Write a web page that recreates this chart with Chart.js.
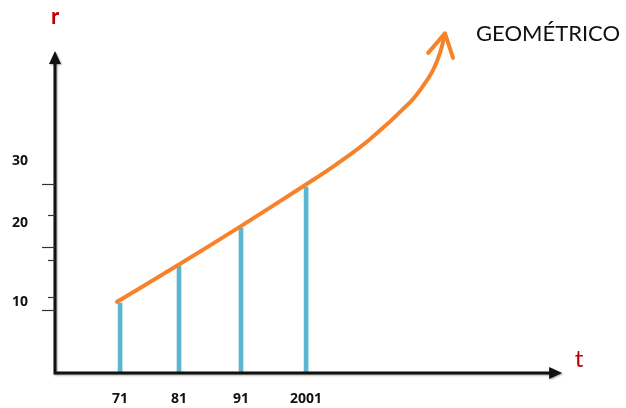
<!DOCTYPE html>
<html lang="es">
<head>
<meta charset="UTF-8">
<title>Crecimiento geométrico</title>
<style>
  html, body { margin: 0; padding: 0; background: #fff; }
  #chart { display: block; }
</style>
</head>
<body>
<canvas id="chart" width="626" height="408"></canvas>

<script src="https://cdn.jsdelivr.net/npm/chart.js@4/dist/chart.umd.min.js"></script>
<script>
    // census years (categories) and their place along the t axis
    var years = ['71', '81', '91', '2001'];
    var yearPos = [1.05, 2.0, 3.0, 4.05];
    // r value of each vertical bar
    var barValues = [11.1, 17.0, 23.0, 29.5];

    // hand drawn geometric curve (t, r)
    var curveT = [1.0, 1.98, 2.98, 4.03, 4.55, 5.08, 5.73, 5.94, 6.10, 6.21, 6.29];
    var curveR = [11.3, 17.1, 23.2, 29.8, 33.2, 37.1, 43.0, 45.6, 48.1, 50.8, 53.8];
    // arrow head at the end of the curve: left barb, tip, right barb
    var headT = [6.02, 6.29, 6.42];
    var headR = [50.8, 53.9, 50.0];

    // r axis ticks and labels
    var yMajorTicks = [10, 20, 30];
    var yMinorTicks = [12, 18, 25];
    var yTickLabels = ['10', '20', '30'];
    var yLabelAt = [11.3, 23.8, 33.6];

    var xAxisEnd = 8.18, yAxisEnd = 51.1;

    function pts(xs, ys) {
        return xs.map(function (x, i) { return { x: x, y: ys[i] }; });
    }

    var axesPlugin = {
        id: 'axes',
        afterDatasetsDraw: function (chart) {
            var ctx = chart.ctx;
            var xs = chart.scales.x, ys = chart.scales.y;
            var x0 = xs.getPixelForValue(0), y0 = ys.getPixelForValue(0);
            var xEnd = xs.getPixelForValue(xAxisEnd), yEnd = ys.getPixelForValue(yAxisEnd);

            ctx.save();
            ctx.strokeStyle = '#111';
            ctx.fillStyle = '#111';
            ctx.shadowColor = 'rgba(0,0,0,0.35)';
            ctx.shadowBlur = 2;
            ctx.shadowOffsetX = 1;
            ctx.shadowOffsetY = 1;
            ctx.lineWidth = 3;
            ctx.beginPath();
            ctx.moveTo(x0, yEnd + 10);
            ctx.lineTo(x0, y0);
            ctx.lineTo(xEnd - 10, y0);
            ctx.stroke();
            // arrow heads
            ctx.beginPath();
            ctx.moveTo(x0, yEnd);
            ctx.lineTo(x0 - 6, yEnd + 13);
            ctx.lineTo(x0 + 6, yEnd + 13);
            ctx.closePath();
            ctx.fill();
            ctx.beginPath();
            ctx.moveTo(xEnd, y0);
            ctx.lineTo(xEnd - 13, y0 - 6);
            ctx.lineTo(xEnd - 13, y0 + 6);
            ctx.closePath();
            ctx.fill();
            ctx.restore();

            // ticks on r axis
            ctx.save();
            ctx.strokeStyle = '#333';
            ctx.lineWidth = 1.2;
            yMajorTicks.forEach(function (v) {
                var py = Math.round(ys.getPixelForValue(v)) + 0.5;
                ctx.beginPath(); ctx.moveTo(x0 - 13, py); ctx.lineTo(x0, py); ctx.stroke();
            });
            yMinorTicks.forEach(function (v) {
                var py = Math.round(ys.getPixelForValue(v)) + 0.5;
                ctx.beginPath(); ctx.moveTo(x0 - 7, py); ctx.lineTo(x0, py); ctx.stroke();
            });

            ctx.fillStyle = '#111';
            ctx.textBaseline = 'middle';
            ctx.textAlign = 'center';
            ctx.font = 'bold 14px "Open Sans"';
            yTickLabels.forEach(function (lab, i) {
                ctx.fillText(lab, 20, ys.getPixelForValue(yLabelAt[i]));
            });
            years.forEach(function (lab, i) {
                ctx.fillText(lab, xs.getPixelForValue(yearPos[i]), 399);
            });

            // axis names
            ctx.fillStyle = '#c00000';
            ctx.font = 'bold 22px Lato';
            ctx.fillText('r', x0, 17);
            ctx.font = '24px Lato';
            ctx.fillText('t', 579, 359);

            ctx.fillStyle = '#111';
            ctx.textAlign = 'left';
            ctx.font = '22px Lato';
            ctx.fillText('GEOMÉTRICO', 476, 34);
            ctx.restore();
        }
    };

    new Chart(document.getElementById('chart'), {
        type: 'bar',
        data: {
            datasets: [{
                type: 'bar',
                data: pts(yearPos, barValues),
                backgroundColor: '#5db6d0',
                borderWidth: 0,
                barThickness: 4,
                order: 2
            }, {
                type: 'line',
                data: pts(curveT, curveR),
                borderColor: '#f7822a',
                borderWidth: 4,
                borderCapStyle: 'round',
                borderJoinStyle: 'round',
                tension: 0.4,
                pointRadius: 0,
                fill: false,
                clip: false,
                order: 1
            }, {
                type: 'line',
                data: pts(headT, headR),
                borderColor: '#f7822a',
                borderWidth: 4,
                borderCapStyle: 'round',
                borderJoinStyle: 'round',
                tension: 0,
                pointRadius: 0,
                fill: false,
                clip: false,
                order: 1
            }]
        },
        options: {
            responsive: false,
            animation: false,
            layout: { padding: { left: 55, right: 0, top: 0, bottom: 35 } },
            plugins: { legend: { display: false }, tooltip: { enabled: false } },
            scales: {
                x: { type: 'linear', min: 0, max: 9.21, offset: false, display: false },
                y: { type: 'linear', min: 0, max: 59.2, display: false }
            }
        },
        plugins: [axesPlugin]
    });
</script>
</body>
</html>
